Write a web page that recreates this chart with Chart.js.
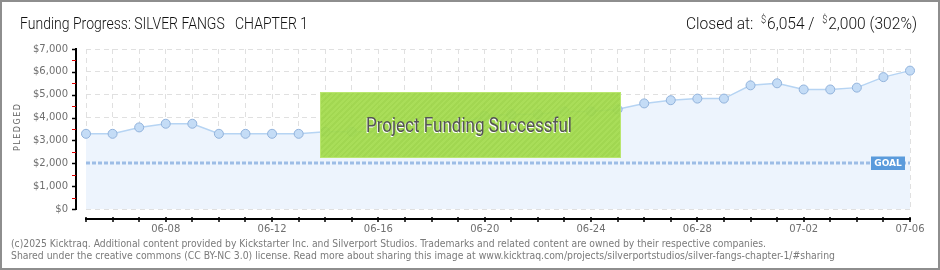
<!DOCTYPE html>
<html>
<head>
<meta charset="utf-8">
<script src="https://cdn.jsdelivr.net/npm/chart.js@4.4.1/dist/chart.umd.min.js"></script>
<style>
  html, body { margin: 0; padding: 0; background: #fff; }
  #wrap { position: relative; width: 940px; height: 270px; overflow: hidden; font-family: Roboto, 'DejaVu Sans', sans-serif; }
  #wrap canvas { position: absolute; left: 0; top: 0; }
  .txt { position: absolute; white-space: nowrap; transform-origin: 0 0; line-height: 1; }
  #title { left: 20px; top: 15px; font-size: 17px; font-weight: 300; color: #111; }
  #closed { left: 686px; top: 15px; font-size: 17px; font-weight: 300; color: #111; }
  #closed sup { font-size: 10px; vertical-align: 6px; margin-right: 1px; }
  #pledged { left: 14px; top: 151px; font-family: 'DejaVu Sans', sans-serif; font-size: 8px; letter-spacing: 1.5px; color: #666; transform: rotate(-90deg); transform-origin: 0 0; }
  .foot { left: 11px; font-family: 'DejaVu Sans Condensed', 'DejaVu Sans', sans-serif; font-stretch: condensed; font-size: 10px; color: #7a7a7a; }
  #foot1 { top: 239px; }
  #foot2 { top: 251px; }
  #success {
    position: absolute; left: 320px; top: 92px; width: 301px; height: 66px; box-sizing: border-box;
    border: 1px solid #b9e66f;
    background: repeating-linear-gradient(135deg, rgba(163,219,76,0.93) 0 2px, rgba(155,212,68,0.93) 2px 4px);
  }
  #successText { left: 366px; top: 115px; font-size: 20px; font-weight: 400; color: #555; text-shadow: -1px 1px 0 #fff; }
  #frame { position: absolute; left: 0; top: 0; width: 940px; height: 270px; box-sizing: border-box; border: 2px solid #8e8e8e; pointer-events: none; }
</style>
</head>
<body>
<div id="wrap">
  <canvas id="fundChart" width="940" height="270"></canvas>
  <div class="txt" id="title">Funding Progress: SILVER FANGS &nbsp; CHAPTER 1</div>
  <div class="txt" id="closed">Closed at: &nbsp;<sup>$</sup>6,054 / &nbsp;<sup>$</sup>2,000 (302%)</div>
  <div class="txt" id="pledged">PLEDGED</div>
  <div id="success"></div>
  <div class="txt" id="successText">Project Funding Successful</div>
  <div class="txt foot" id="foot1">(c)2025 Kicktraq. Additional content provided by Kickstarter Inc. and Silverport Studios. Trademarks and related content are owned by their respective companies.</div>
  <div class="txt foot" id="foot2">Shared under the creative commons (CC BY-NC 3.0) license. Read more about sharing this image at www.kicktraq.com/projects/silverportstudios/silver-fangs-chapter-1/#sharing</div>
  <div id="frame"></div>
</div>
<script>
// data
const dates = [
  '06-05', '06-06', '06-07', '06-08', '06-09', '06-10', '06-11', '06-12',
  '06-13', '06-14', '06-15', '06-16', '06-17', '06-18', '06-19', '06-20',
  '06-21', '06-22', '06-23', '06-24', '06-25', '06-26', '06-27', '06-28',
  '06-29', '06-30', '07-01', '07-02', '07-03', '07-04', '07-05', '07-06'
]
const pledged = [
  3290, 3290, 3570, 3730, 3730, 3290, 3290, 3290,
  3290, 3380, 3380, 3380, 3370, 3370, 3700, 4070,
  4150, 4150, 4270, 4270, 4360, 4620, 4760, 4830,
  4830, 5410, 5500, 5230, 5230, 5310, 5770, 6054
]
const tickLabels = ['06-08', '06-12', '06-16', '06-20', '06-24', '06-28', '07-02', '07-06']
const goal = 2000

// squeeze the html texts to the widths seen in the reference
function fitText (id, width) {
  const el = document.getElementById(id)
  const w = el.getBoundingClientRect().width
  el.style.transform = 'scaleX(' + (width / w) + ')'
}
fitText('title', 288)
fitText('closed', 231)
fitText('successText', 206)
fitText('foot1', 755)
fitText('foot2', 824)

const axisPlugin = {
  id: 'kickAxes',
  afterDraw (chart) {
    const c = chart.ctx
    const area = chart.chartArea
    const xs = chart.scales.x
    const ys = chart.scales.y
    c.save()
    // y axis, pushed 10px left of the plot
    const ax = area.left - 10
    c.strokeStyle = '#000'
    c.lineWidth = 2
    c.beginPath()
    c.moveTo(ax, ys.getPixelForValue(7000) - 1)
    c.lineTo(ax, ys.getPixelForValue(0) + 1)
    c.stroke()
    for (let v = 0; v <= 7000; v += 500) {
      const y = Math.round(ys.getPixelForValue(v)) + 0.5
      c.strokeStyle = v % 1000 === 0 ? '#000' : '#e00000'
      c.lineWidth = v % 1000 === 0 ? 1.5 : 1
      c.beginPath()
      c.moveTo(ax - 4, y)
      c.lineTo(ax, y)
      c.stroke()
    }
    // x axis, pushed 10px below the plot
    const ay = area.bottom + 10
    c.strokeStyle = '#000'
    c.lineWidth = 2
    c.beginPath()
    c.moveTo(area.left - 1, ay)
    c.lineTo(area.right + 1, ay)
    c.stroke()
    c.lineWidth = 1.5
    dates.forEach((d, i) => {
      const x = Math.round(xs.getPixelForValue(i))
      c.beginPath()
      c.moveTo(x, ay - 2)
      c.lineTo(x, ay + 3)
      c.stroke()
    })
    c.restore()
  },
  afterDatasetsDraw (chart) {
    const c = chart.ctx
    const area = chart.chartArea
    const y = Math.round(chart.scales.y.getPixelForValue(goal))
    c.save()
    c.strokeStyle = '#9dbde6'
    c.lineWidth = 3
    c.setLineDash([4, 2])
    c.beginPath()
    c.moveTo(area.left, y)
    c.lineTo(area.right, y)
    c.stroke()
    c.setLineDash([])
    // goal tag
    c.fillStyle = '#5b9bdc'
    c.fillRect(area.right - 39, y - 6.5, 34, 13.5)
    c.fillStyle = '#fff'
    c.font = 'bold 9px "DejaVu Sans", sans-serif'
    c.textAlign = 'center'
    c.textBaseline = 'middle'
    c.fillText('GOAL', area.right - 22, y + 0.5)
    c.restore()
  }
}

const tickColor = '#6f6f6f'
const tickFont = { family: 'DejaVu Sans', size: 10 }

const chart = new Chart(document.getElementById('fundChart').getContext('2d'), {
  type: 'line',
  data: {
    labels: dates,
    datasets: [
      {
        label: 'Pledged',
        data: pledged,
        fill: 'origin',
        backgroundColor: '#edf4fd',
        borderColor: '#b6d4f3',
        borderWidth: 1.5,
        tension: 0,
        pointRadius: 4.5,
        pointBackgroundColor: '#c4dcf6',
        pointBorderColor: '#92b3dc',
        pointBorderWidth: 1
      }
    ]
  },
  options: {
    responsive: false,
    animation: false,
    events: [],
    layout: {
      padding: { top: 49, right: 30, bottom: 0, left: 0 }
    },
    plugins: {
      legend: { display: false },
      tooltip: { enabled: false }
    },
    scales: {
      x: {
        offset: false,
        grid: { color: '#e0e0e0', drawTicks: false },
        border: { display: false, dash: [5, 4] },
        ticks: {
          autoSkip: false,
          maxRotation: 0,
          padding: 14,
          color: tickColor,
          font: tickFont,
          callback: (v, i) => tickLabels.includes(dates[i]) ? dates[i] : ''
        },
        afterFit (scale) {
          scale.height = 61
          scale.paddingLeft = 0
          scale.paddingRight = 0
        }
      },
      y: {
        min: 0,
        max: 7000,
        grid: { color: '#e0e0e0', drawTicks: false },
        border: { display: false, dash: [5, 4] },
        ticks: {
          stepSize: 1000,
          padding: 18,
          color: tickColor,
          font: tickFont,
          callback: v => '$' + v.toLocaleString('en-US')
        },
        afterFit (scale) {
          scale.width = 86
          scale.paddingTop = 0
          scale.paddingBottom = 0
        }
      }
    }
  },
  plugins: [axisPlugin]
})
</script>
</body>
</html>
